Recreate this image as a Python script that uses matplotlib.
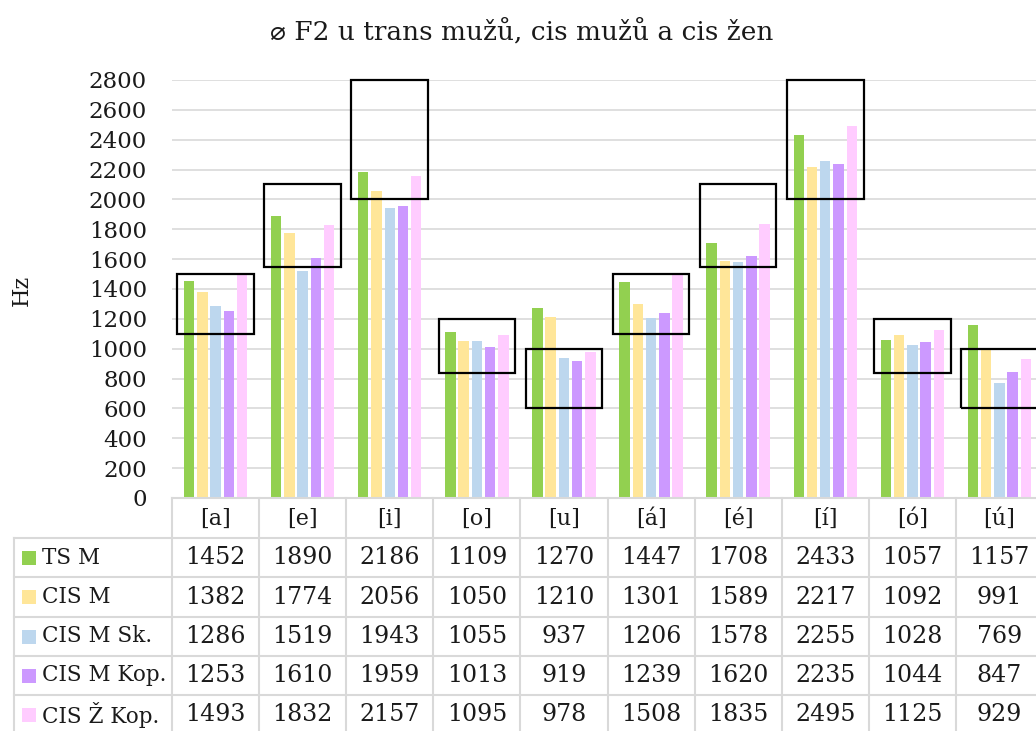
"""F2 averages for trans men, cis men and cis women, with data table."""
import matplotlib
matplotlib.use("Agg")
import matplotlib.pyplot as plt
from matplotlib import transforms
from matplotlib.patches import Rectangle
from matplotlib.lines import Line2D

vowels = ["[a]", "[e]", "[i]", "[o]", "[u]", "[á]", "[é]", "[í]", "[ó]", "[ú]"]
series = ["TS M", "CIS M", "CIS M Sk.", "CIS M Kop.", "CIS Ž Kop."]
ts_m = [1452, 1890, 2186, 1109, 1270, 1447, 1708, 2433, 1057, 1157]
cis_m = [1382, 1774, 2056, 1050, 1210, 1301, 1589, 2217, 1092, 991]
cis_m_sk = [1286, 1519, 1943, 1055, 937, 1206, 1578, 2255, 1028, 769]
cis_m_kop = [1253, 1610, 1959, 1013, 919, 1239, 1620, 2235, 1044, 847]
cis_z_kop = [1493, 1832, 2157, 1095, 978, 1508, 1835, 2495, 1125, 929]
values = [ts_m, cis_m, cis_m_sk, cis_m_kop, cis_z_kop]
colors = ["#92d050", "#ffe699", "#bdd7ee", "#cc99ff", "#ffccff"]

# highlighted ranges (Hz) drawn as black boxes
box_low = [1100, 1550, 2000, 840, 600, 1100, 1550, 2000, 840, 600]
box_high = [1500, 2100, 2800, 1200, 1000, 1500, 2100, 2800, 1200, 1000]

plt.rcParams["font.family"] = ["DejaVu Serif", "DejaVu Sans"]
W, H = 1036, 731
TXT = "#1a1a1a"
fig = plt.figure(figsize=(W / 100, H / 100), dpi=100)


def fx(px):
    return px / W


def fy(py):
    return 1 - py / H


ax = fig.add_axes([fx(172), fy(498), fx(1043 - 172), (498 - 80) / H])
slot = 0.152
for i, (vals, c) in enumerate(zip(values, colors)):
    xs = [k + (i - 2) * slot for k in range(len(vowels))]
    ax.bar(xs, vals, width=0.12, color=c, zorder=2)

for k in range(len(vowels)):
    ax.add_patch(Rectangle((k - 0.44, box_low[k]), 0.88, box_high[k] - box_low[k],
                           fill=False, edgecolor="black", linewidth=1.6, zorder=3,
                           clip_on=False))

ax.set_xlim(-0.5, len(vowels) - 0.5)
ax.set_ylim(0, 2800)
ax.set_yticks(range(0, 2801, 200))
ax.yaxis.grid(True, color="#d9d9d9", linewidth=1.2, zorder=0)
ax.set_axisbelow(True)
for s in ax.spines.values():
    s.set_visible(False)
ax.tick_params(axis="y", length=0, pad=18, labelsize=16.5, labelcolor=TXT)
ax.tick_params(axis="x", length=0, labelbottom=False)

fig.text(fx(22), fy(290), "Hz", rotation=90, ha="center", va="center",
         fontsize=16, color=TXT)
fig.text(fx(522), fy(31), "⌀ F2 u trans mužů, cis mužů a cis žen",
         ha="center", va="center", fontsize=19, color=TXT)

# data table under the axis
grid_c = "#d9d9d9"
blend = transforms.blended_transform_factory(ax.transData, fig.transFigure)
rows = [498, 538, 577, 617, 656, 695, 734]
for j in range(len(vowels) + 1):
    fig.add_artist(Line2D([j - 0.5, j - 0.5], [fy(498), fy(740)], transform=blend,
                          color=grid_c, linewidth=1.5))
fig.add_artist(Line2D([fx(14), fx(14)], [fy(538), fy(740)], transform=fig.transFigure,
                      color=grid_c, linewidth=1.5))
for r in rows:
    x0 = 172 if r == 498 else 14
    fig.add_artist(Line2D([fx(x0), fx(1045)], [fy(r), fy(r)], transform=fig.transFigure,
                          color=grid_c, linewidth=1.5))

for k, v in enumerate(vowels):
    fig.text(k, fy(519), v, transform=blend, ha="center", va="center",
             fontsize=16, color=TXT)
for i, name in enumerate(series):
    yc = (rows[i + 1] + rows[i + 2]) / 2
    fig.add_artist(Rectangle((fx(22), fy(yc + 7)), fx(14), 14 / H,
                             transform=fig.transFigure, facecolor=colors[i],
                             edgecolor="none"))
    fig.text(fx(42), fy(yc), name, ha="left", va="center", fontsize=15.5,
             color=TXT)
    for k, v in enumerate(values[i]):
        fig.text(k, fy(yc), str(v), transform=blend, ha="center", va="center",
                 fontsize=17, color=TXT)

fig.savefig("out.png", dpi=100)
